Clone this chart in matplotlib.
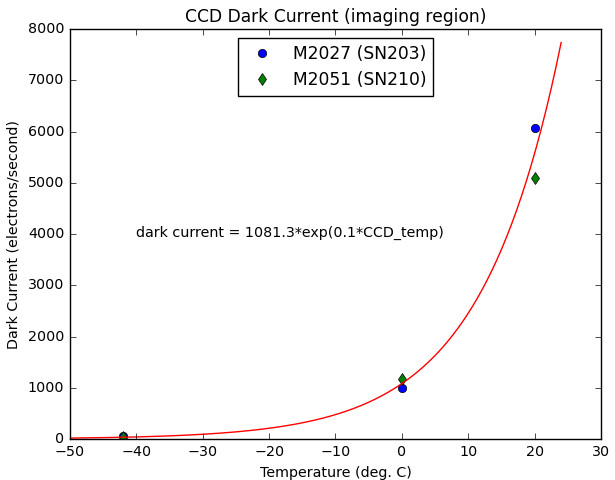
import numpy as np
import matplotlib
matplotlib.use('Agg')
import matplotlib.pyplot as plt

plt.style.use('classic')
plt.rcParams['font.size'] = 10.3

# data
temp_2027 = [-42, 0, 20]
dark_2027 = [60, 1000, 6070]
temp_2051 = [-42, 0, 20]
dark_2051 = [40, 1170, 5090]

# fit curve
a = 1081.3
b = 0.082
t_fit = np.linspace(-50, 24, 200)
d_fit = a * np.exp(b * t_fit)

fig = plt.figure(figsize=(6.15, 4.8), dpi=100)
ax = fig.add_axes([0.1138, 0.0854, 0.8634, 0.854])
ax.plot(temp_2027, dark_2027, 'bo', label='M2027 (SN203)')
ax.plot(temp_2051, dark_2051, 'gd', label='M2051 (SN210)')
ax.plot(t_fit, d_fit, 'r-')
ax.set_xlim(-50, 30)
ax.set_ylim(0, 8000)
ax.set_title('CCD Dark Current (imaging region)')
ax.set_xlabel('Temperature (deg. C)')
ax.set_ylabel('Dark Current (electrons/second)')
ax.text(-40, 3950, 'dark current = 1081.3*exp(0.1*CCD_temp)')
ax.legend(loc='upper center', numpoints=1)
fig.savefig('out.png', dpi=100)
